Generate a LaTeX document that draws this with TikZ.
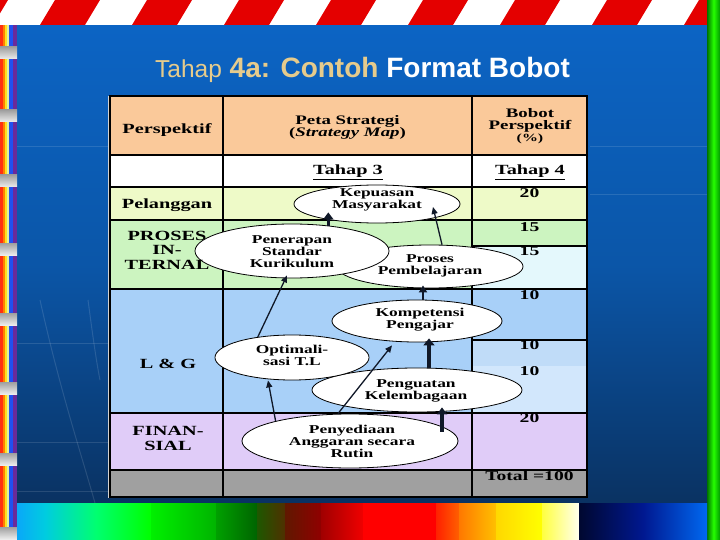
\documentclass[tikz,border=0pt]{standalone}
\usepackage{fontspec}
\setmainfont{Liberation Serif}
\newfontfamily\titlefont{Liberation Sans}
\newfontfamily\tabfont[FakeStretch=1.45]{Liberation Serif}
\usetikzlibrary{shapes.geometric,arrows.meta,calc}
\definecolor{cBgTop}{HTML}{0C64C4}
\definecolor{cBgMid}{HTML}{0B56A8}
\definecolor{cBgBot}{HTML}{0A3262}
\definecolor{cStripRed}{HTML}{E40000}
\definecolor{cTan}{HTML}{E6CB8C}
\definecolor{cHdr}{HTML}{FAC99A}
\definecolor{cPel}{HTML}{EEFAC8}
\definecolor{cPin}{HTML}{CCF4C0}
\definecolor{cPinB}{HTML}{E4F8FC}
\definecolor{cLg}{HTML}{A8D0F8}
\definecolor{cLgB}{HTML}{C0DCF8}
\definecolor{cLgC}{HTML}{D2E7FC}
\definecolor{cFin}{HTML}{E0CCF8}
\definecolor{cTot}{HTML}{A0A0A0}
\definecolor{cArrow}{HTML}{101828}
\definecolor{cRbA}{HTML}{FF3010}
\definecolor{cRbB}{HTML}{FF8000}
\definecolor{cRbC}{HTML}{FFE020}
\definecolor{cRbD}{HTML}{E0F0A0}
\definecolor{cRbE}{HTML}{2050F0}
\definecolor{cRbF}{HTML}{6A2A9A}
\tikzset{
  gridline/.style={draw=black, line width=1.1},
  lbl/.style={font=\tabfont\bfseries\fontsize{14}{14.5}\selectfont, align=center, inner sep=0},
  hdrtxt/.style={font=\tabfont\bfseries\fontsize{13}{12}\selectfont, align=center, inner sep=0},
  numtxt/.style={font=\tabfont\bfseries\fontsize{13.5}{14}\selectfont, anchor=base, inner sep=0},
  ell/.style={ellipse, draw=black, line width=0.8, fill=white, inner sep=0},
  etxt/.style={font=\tabfont\bfseries\fontsize{12}{12}\selectfont, align=center, inner sep=0},
  thn/.style={draw=cArrow, line width=1.3, -{Triangle[length=7pt,width=6pt]}},
  med/.style={draw=cArrow, line width=2.2, -{Triangle[length=7pt,width=8pt]}},
  thk/.style={draw=cArrow, line width=3.5, -{Triangle[length=7pt,width=10pt]}},
  thkr/.style={draw=cArrow, line width=4.5, -{Triangle[length=7pt,width=11pt]}},
  bgline/.style={draw=white, opacity=0.12, line width=1}
}
\begin{document}
\begin{tikzpicture}[x=1pt,y=-1pt]
\useasboundingbox (0,0) rectangle (720,540);
% background
\shade[top color=cBgTop, bottom color=cBgBot, middle color=cBgMid] (0,25) rectangle (720,503);
\draw[bgline] (40,300) .. controls (60,390) and (80,450) .. (95,503);
\draw[bgline] (88,300) .. controls (92,330) and (96,360) .. (100,380);
\draw[bgline] (17,343) -- (108,343);
\draw[bgline] (17,442) -- (108,442);
\draw[bgline] (17,491) -- (108,491);
\draw[bgline] (17,147) -- (108,147);
\draw[bgline] (590,147) -- (707,147);
\draw[bgline] (590,195) -- (707,195);
% top strip
\fill[white] (0,0) rectangle (720,25);
\foreach \i in {0,...,8}{
  \fill[cStripRed] ({-37+92*\i},0) -- ({8+92*\i},0) -- ({-7+92*\i},25) -- ({-52+92*\i},25) -- cycle;
}
% left rainbow strip
\fill[white] (0,25) rectangle (17,540);
\fill[cRbA] (0,25) rectangle (3,540);
\fill[cRbB] (3,25) rectangle (5,540);
\fill[cRbC] (5,25) rectangle (7,540);
\fill[cRbD] (7,25) rectangle (8.5,540);
\fill[cRbE] (8.5,25) rectangle (12.5,540);
\fill[cRbF] (12.5,25) rectangle (17,540);
\foreach \yy in {47,110,175,243,313,382,453,527}{
  \shade[top color=gray!75, bottom color=gray!15] (0,\yy) rectangle (17,\yy+12);
}
% right green strip
\shade[left color=green!45!black, right color=green!60!black, middle color=green!80!lime] (707,0) rectangle (720,540);
% bottom strip
\foreach \xa/\xb/\ca/\cb in {
  17/45/0AA8F8/00CCE0,
  45/96/00CCE0/00FF70,
  96/151/00FF70/00FF00,
  151/216/00F000/00B400,
  216/257/00A000/006400,
  257/285/1E5800/503000,
  285/321/601800/900000,
  321/363/A00000/F00000,
  363/436/FF0000/FF0000,
  436/459/FF2000/FF6000,
  459/496/FF7800/FFC000,
  496/542/FFD800/FFFF00,
  542/579.5/FFFF40/FFFFF0,
  579/643/000830/001890,
  643/707/001890/0068F0}{
  \definecolor{cola}{HTML}{\ca}
  \definecolor{colb}{HTML}{\cb}
  \shade[left color=cola, right color=colb] (\xa,503) rectangle (\xb,540);
}
% title
\node[anchor=base west, inner sep=0, font=\titlefont\bfseries\fontsize{28}{30}\selectfont] (title) at (155,78)
  {{\mdseries\fontsize{24.5}{26}\selectfont\color{cTan}Tahap} {\color{cTan}4a: Contoh} {\color{white}Format Bobot}};
% table
\draw[gray!35, line width=1] (108.5,96) -- (108.5,498);
\fill[cHdr] (110,96) rectangle (587,155);
\fill[white] (110,155) rectangle (587,187);
\fill[cPel] (110,187) rectangle (587,220);
\fill[cPin] (110,220) rectangle (587,289);
\fill[cPinB] (472,246) rectangle (587,289);
\fill[cLg] (110,289) rectangle (587,413);
\fill[cLgB] (472,340) rectangle (587,366);
\fill[cLgC] (472,366) rectangle (587,413);
\fill[cFin] (110,413) rectangle (587,470);
\fill[cTot] (110,470) rectangle (587,497);
\draw[gridline] (223,96) -- (223,497);
\draw[gridline] (472,96) -- (472,497);
\foreach \yy in {155,187,220,289,413,470}{\draw[gridline] (110,\yy) -- (587,\yy);}
\draw[gridline] (472,246) -- (587,246);
\draw[gridline] (472,340) -- (587,340);
\draw[black, line width=1.6] (110,96) rectangle (587,497);
% header texts
\node[lbl, anchor=base] (hpers) at (167,134) {Perspektif};
\node[hdrtxt] (hpeta) at (347.5,127) {Peta Strategi\\(\textit{Strategy Map})};
\node[hdrtxt] (hbob) at (530,126) {Bobot\\Perspektif\\{\fontsize{11}{12}\selectfont(\%)}};
\node[lbl, anchor=base] (t3) at (348,174.5) {\underline{Tahap 3}};
\node[lbl, anchor=base] (t4) at (530,174.5) {\underline{Tahap 4}};
% weights
\node[numtxt] (w1) at (529.5,197) {20};
\node[numtxt] (w2) at (529.5,231) {15};
\node[numtxt] (w3) at (529.5,255.5) {15};
\node[numtxt] (w4) at (529.5,299.5) {10};
\node[numtxt] (w5) at (529.5,349.5) {10};
\node[numtxt] (w6) at (529.5,375.5) {10};
\node[numtxt] (w7) at (529.5,422.5) {20};
\node[numtxt] (w8) at (529.5,480.5) {Total =100};
% ellipses
\node[ell, minimum width=186, minimum height=43] (pro) at (430,266.5) {};
\node[ell, minimum width=194, minimum height=54] (pen) at (292,251) {};
\node[ell, minimum width=166, minimum height=38] (kep) at (377,204) {};
\node[ell, minimum width=170, minimum height=42] (kom) at (417,321) {};
\node[ell, minimum width=210, minimum height=44] (pgt) at (417,390) {};
\node[ell, minimum width=154, minimum height=45] (opt) at (292,357.5) {};
\node[ell, minimum width=216, minimum height=54] (pny) at (350,441) {};
\node[etxt] (kept) at (377,200.2) {Kepuasan\\Masyarakat};
\node[etxt] (pent) at (292,251.5) {Penerapan\\Standar\\Kurikulum};
\node[etxt] (prot) at (430,266.3) {Proses\\Pembelajaran};
\node[etxt] (komt) at (420,319.8) {Kompetensi\\Pengajar};
\node[etxt] (optt) at (292,355.5) {Optimali-\\sasi T.L};
\node[etxt] (pgtt) at (416,390.8) {Penguatan\\Kelembagaan};
\node[etxt] (pnyt) at (352,441) {Penyediaan\\Anggaran secara\\Rutin};
% row labels
\node[lbl, anchor=base] (rpel) at (167,209) {Pelanggan};
\node[lbl] (rpin) at (167,250) {PROSES\\IN-\\TERNAL};
\node[lbl, anchor=base] (rlg) at (168,368) {L \& G};
\node[lbl] (rfin) at (168,438.5) {FINAN-\\SIAL};
% arrows
\draw[thk] (pen.35) -- ([yshift=11pt]pen.35 |- kep.south);
\draw[thn] (pro.61) -- ($(kep.center)+(56,3)$);
\draw[med] ($(kom.north)+(6,0)$) -- ($(kom.north |- pro.south)+(6,-3)$);
\draw[thn] (opt.149) -- ($(pen.south)+(-5,-3)$);
\draw[thkr] ($(pgt.north)+(12,0)$) -- ($(pgt.north |- kom.south)+(12,-4)$);
\draw[thn] (pny.165.5) -- ($(opt.south)+(-24,0)$);
\draw[thk] ($(pny.north)+(92,18)$) -- ($(pgt.south)+(25,-5)$);
\draw[thn] ($(pny.north)+(-12,0)$) -- ($(kom.south)+(-25,3)$);
\end{tikzpicture}
\end{document}
